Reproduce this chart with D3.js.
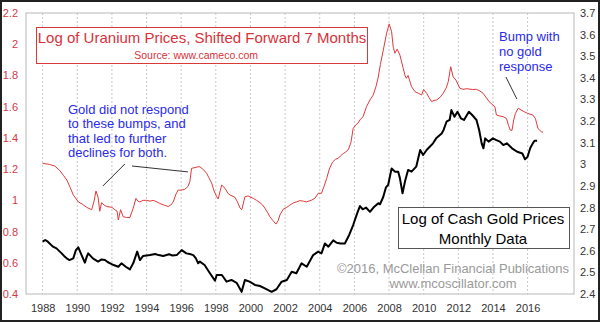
<!DOCTYPE html>
<html>
<head>
<meta charset="utf-8">
<script src="https://cdn.jsdelivr.net/npm/d3@7"></script>
<style>
  body { margin: 0; background: #fff; }
  svg { display: block; font-family: "Liberation Sans", Arial, sans-serif; }
  .grid line { stroke: #c8c8c8; stroke-dasharray: 2,2; }
</style>
</head>
<body>
<div id="chart"></div>
<script>
// uranium (log, shifted forward 7 months) -- left axis
const uraniumYears = [1988.0,1988.4,1988.7,1989.0,1989.2,1989.4,1989.6,1989.77,1990.06,1990.3,1990.54,1990.83,1990.96,1991.08,1991.2,1991.3,1991.4,1991.55,1991.7,1992.0,1992.17,1992.3,1992.37,1992.5,1992.65,1992.85,1993.04,1993.23,1993.39,1993.5,1993.62,1993.8,1994.0,1994.2,1994.38,1994.6,1994.77,1995.0,1995.25,1995.4,1995.54,1995.7,1995.83,1996.0,1996.2,1996.4,1996.5,1996.6,1996.8,1996.98,1997.08,1997.3,1997.47,1997.6,1997.76,1997.9,1998.05,1998.14,1998.25,1998.34,1998.53,1998.7,1998.82,1999.1,1999.25,1999.4,1999.5,1999.68,1999.87,2000.16,2000.35,2000.55,2000.7,2000.83,2001.0,2001.12,2001.3,2001.47,2001.6,2001.7,2001.89,2002.1,2002.28,2002.5,2002.66,2002.85,2003.05,2003.24,2003.5,2003.72,2003.91,2004.1,2004.25,2004.4,2004.55,2004.74,2004.9,2005.07,2005.2,2005.36,2005.5,2005.65,2005.8,2005.93,2006.1,2006.2,2006.32,2006.5,2006.7,2006.9,2007.09,2007.25,2007.38,2007.5,2007.67,2007.86,2008.01,2008.15,2008.24,2008.34,2008.47,2008.63,2008.82,2008.92,2009.0,2009.1,2009.3,2009.5,2009.69,2009.88,2010.0,2010.17,2010.3,2010.46,2010.6,2010.75,2010.95,2011.13,2011.3,2011.42,2011.56,2011.7,2011.86,2012.09,2012.28,2012.5,2012.8,2013.05,2013.25,2013.43,2013.6,2013.78,2014.0,2014.11,2014.2,2014.4,2014.59,2014.78,2014.9,2015.0,2015.1,2015.2,2015.3,2015.46,2015.62,2015.8,2016.0,2016.3,2016.45,2016.6,2016.79,2016.9];
const uraniumLog = [1.237,1.23,1.22,1.19,1.16,1.13,1.08,1.034,0.99,0.975,0.955,0.94,0.99,1.06,1.02,0.93,0.985,0.97,0.96,0.955,0.94,0.93,0.874,0.94,0.895,0.89,0.89,0.95,1.013,0.995,0.99,1.0,1.0,0.995,1.0,0.99,0.98,0.97,0.96,0.97,0.99,1.04,1.066,1.065,1.07,1.09,1.12,1.205,1.21,1.215,1.215,1.195,1.173,1.145,1.11,1.06,1.023,1.009,1.06,1.098,1.077,1.045,1.034,1.02,0.99,0.95,0.94,1.023,1.028,1.013,1.0,0.985,0.97,0.95,0.92,0.895,0.87,0.848,0.87,0.906,0.943,0.955,0.97,0.985,0.99,0.998,0.995,0.99,1.0,1.013,1.045,1.045,1.09,1.14,1.2,1.245,1.262,1.27,1.285,1.30,1.31,1.325,1.37,1.461,1.485,1.493,1.515,1.536,1.60,1.643,1.675,1.73,1.79,1.87,1.963,2.07,2.13,2.08,1.984,1.942,1.968,1.93,1.846,1.80,1.782,1.80,1.728,1.696,1.686,1.675,1.71,1.686,1.66,1.632,1.64,1.643,1.66,1.686,1.72,1.76,1.856,1.792,1.771,1.718,1.711,1.715,1.71,1.711,1.70,1.686,1.66,1.632,1.61,1.60,1.547,1.54,1.536,1.525,1.48,1.45,1.448,1.515,1.557,1.59,1.579,1.568,1.557,1.547,1.525,1.46,1.44,1.436];

// cash gold (log) -- right axis
const goldYears = [1988.0,1988.15,1988.3,1988.45,1988.6,1988.8,1989.1,1989.25,1989.39,1989.55,1989.77,1989.92,1990.06,1990.25,1990.44,1990.55,1990.63,1990.9,1991.2,1991.4,1991.6,1991.75,1991.9,1992.1,1992.37,1992.55,1992.8,1993.04,1993.23,1993.46,1993.62,1993.8,1994.0,1994.2,1994.5,1994.7,1994.96,1995.3,1995.5,1995.74,1996.03,1996.3,1996.5,1996.7,1996.85,1996.98,1997.08,1997.35,1997.66,1997.95,1998.05,1998.35,1998.62,1998.9,1999.2,1999.49,1999.68,1999.95,2000.26,2000.55,2000.83,2001.22,2001.5,2001.8,2002.1,2002.38,2002.65,2002.95,2003.25,2003.62,2003.91,2004.1,2004.3,2004.5,2004.78,2004.98,2005.2,2005.45,2005.7,2005.93,2006.16,2006.32,2006.48,2006.67,2006.9,2007.1,2007.38,2007.48,2007.67,2007.82,2007.95,2008.15,2008.34,2008.53,2008.63,2008.78,2008.92,2009.1,2009.3,2009.57,2009.8,2009.97,2010.17,2010.35,2010.54,2010.72,2011.04,2011.15,2011.32,2011.5,2011.6,2011.78,2011.95,2012.15,2012.33,2012.61,2012.8,2013.05,2013.2,2013.35,2013.45,2013.55,2013.75,2014.0,2014.2,2014.4,2014.6,2014.8,2015.1,2015.4,2015.7,2015.85,2016.0,2016.15,2016.3,2016.4,2016.55];
const goldLog = [2.642,2.65,2.642,2.63,2.619,2.611,2.588,2.575,2.565,2.557,2.565,2.603,2.616,2.58,2.545,2.573,2.588,2.565,2.55,2.56,2.557,2.548,2.542,2.534,2.526,2.542,2.526,2.514,2.542,2.596,2.557,2.576,2.578,2.58,2.585,2.58,2.576,2.584,2.578,2.58,2.603,2.588,2.585,2.58,2.565,2.542,2.55,2.534,2.496,2.462,2.488,2.488,2.457,2.465,2.452,2.41,2.465,2.457,2.442,2.437,2.426,2.41,2.422,2.457,2.465,2.503,2.496,2.542,2.526,2.58,2.596,2.588,2.634,2.619,2.648,2.637,2.634,2.634,2.673,2.719,2.773,2.807,2.792,2.80,2.78,2.80,2.82,2.815,2.85,2.893,2.904,2.981,2.966,2.966,2.935,2.866,2.92,2.974,2.966,2.989,3.066,3.043,3.066,3.081,3.097,3.12,3.143,3.159,3.197,3.205,3.251,3.22,3.243,3.213,3.205,3.243,3.228,3.205,3.16,3.097,3.074,3.12,3.105,3.12,3.112,3.105,3.089,3.097,3.074,3.058,3.05,3.023,3.035,3.074,3.097,3.109,3.109];

const yearTicks = d3.range(1988, 2017, 2);
const leftTicks = [0.4, 0.6, 0.8, 1.0, 1.2, 1.4, 1.6, 1.8, 2.0, 2.2];
const rightTicks = [2.4, 2.5, 2.6, 2.7, 2.8, 2.9, 3.0, 3.1, 3.2, 3.3, 3.4, 3.5, 3.6, 3.7];

const W = 600, H = 322;
const plotL = 26, plotR = 574, plotT = 13, plotB = 294;

const svg = d3.select("#chart").append("svg").attr("width", W).attr("height", H);

svg.append("rect").attr("x", 1).attr("y", 1).attr("width", W - 2).attr("height", H - 2)
  .attr("fill", "#fff").attr("stroke", "#222").attr("stroke-width", 2);

const x = d3.scaleLinear().domain([1987.04, 2018.68]).range([plotL, plotR]);
const yL = d3.scaleLinear().domain([0.4, 2.2]).range([plotB, plotT]);
const yR = d3.scaleLinear().domain([2.4, 3.7]).range([plotB, plotT]);

// vertical dashed grid
svg.append("g").attr("class", "grid")
  .selectAll("line").data(yearTicks).enter().append("line")
  .attr("x1", d => x(d)).attr("x2", d => x(d))
  .attr("y1", plotT).attr("y2", plotB);

// plot frame
svg.append("rect").attr("x", plotL).attr("y", plotT)
  .attr("width", plotR - plotL).attr("height", plotB - plotT)
  .attr("fill", "none").attr("stroke", "#b8b8b8");

// axes
const fmt = d3.format("~g");
const gL = svg.append("g").attr("transform", `translate(${plotL},0)`)
  .call(d3.axisLeft(yL).tickValues(leftTicks).tickFormat(fmt).tickSize(0).tickPadding(8));
gL.select(".domain").remove();
gL.selectAll("text").attr("fill", "#d2394a").style("font-size", "11px")
  .style("font-family", "Liberation Sans, Arial, sans-serif");

const gR = svg.append("g").attr("transform", `translate(${plotR},0)`)
  .call(d3.axisRight(yR).tickValues(rightTicks).tickFormat(fmt).tickSize(0).tickPadding(6));
gR.select(".domain").remove();
gR.selectAll("text").attr("fill", "#333").style("font-size", "11px")
  .style("font-family", "Liberation Sans, Arial, sans-serif");

const gX = svg.append("g").attr("transform", `translate(0,${plotB})`)
  .call(d3.axisBottom(x).tickValues(yearTicks).tickFormat(d3.format("d")).tickSize(0).tickPadding(10));
gX.select(".domain").remove();
gX.selectAll("text").attr("fill", "#333").style("font-size", "11px")
  .style("font-family", "Liberation Sans, Arial, sans-serif");

// lines
svg.append("clipPath").attr("id", "clip").append("rect")
  .attr("x", plotL).attr("y", plotT).attr("width", plotR - plotL).attr("height", plotB - plotT);

const uranium = uraniumYears.map((t, i) => ({ t, v: uraniumLog[i] }));
const gold = goldYears.map((t, i) => ({ t, v: goldLog[i] }));

svg.append("path").datum(uranium)
  .attr("clip-path", "url(#clip)")
  .attr("fill", "none").attr("stroke", "#e03a3a").attr("stroke-width", 1)
  .attr("d", d3.line().x(d => x(d.t)).y(d => yL(d.v)));

svg.append("path").datum(gold)
  .attr("clip-path", "url(#clip)")
  .attr("fill", "none").attr("stroke", "#000").attr("stroke-width", 2)
  .attr("stroke-linejoin", "round")
  .attr("d", d3.line().x(d => x(d.t)).y(d => yR(d.v)));

// title box
svg.append("rect").attr("x", 36.5).attr("y", 27.5).attr("width", 331).attr("height", 36)
  .attr("fill", "#fff").attr("stroke", "#d83a3a");
svg.append("text").attr("x", 202).attr("y", 43).attr("text-anchor", "middle")
  .attr("fill", "#d8323a").style("font-size", "15px")
  .text("Log of Uranium Prices, Shifted Forward 7 Months");
svg.append("text").attr("x", 258).attr("y", 58.5).attr("text-anchor", "end")
  .attr("fill", "#d8323a").style("font-size", "10.5px")
  .text("Source: www.cameco.com");

// annotations
const note1 = ["Gold did not respond", "to these bumps, and", "that led to further", "declines for both."];
svg.append("g").selectAll("text").data(note1).enter().append("text")
  .attr("x", 68).attr("y", (d, i) => 114 + i * 14.3)
  .attr("fill", "#2a2af0").style("font-size", "13px").text(d => d);

const note2 = ["Bump with", "no gold", "response"];
svg.append("g").selectAll("text").data(note2).enter().append("text")
  .attr("x", 499).attr("y", (d, i) => 40.5 + i * 15.2)
  .attr("fill", "#2a2af0").style("font-size", "13px").text(d => d);

const pointers = [
  [[1992.75, 1.233], [1991.48, 1.092]],
  [[1993.16, 1.22], [1996.39, 1.182]],
  [[2014.75, 1.79], [2015.38, 1.649]]
];
svg.append("g").selectAll("line").data(pointers).enter().append("line")
  .attr("x1", d => x(d[0][0])).attr("y1", d => yL(d[0][1]))
  .attr("x2", d => x(d[1][0])).attr("y2", d => yL(d[1][1]))
  .attr("stroke", "#333").attr("stroke-width", 1);

// gold legend box
svg.append("rect").attr("x", 398.5).attr("y", 207.5).attr("width", 171).attr("height", 41)
  .attr("fill", "#fff").attr("stroke", "#555");
svg.append("text").attr("x", 483).attr("y", 224).attr("text-anchor", "middle")
  .attr("fill", "#000").style("font-size", "15px").text("Log of Cash Gold Prices");
svg.append("text").attr("x", 483).attr("y", 243.5).attr("text-anchor", "middle")
  .attr("fill", "#000").style("font-size", "15px").text("Monthly Data");

// copyright
svg.append("text").attr("x", 453).attr("y", 272.5).attr("text-anchor", "middle")
  .attr("fill", "#9a9a9a").style("font-size", "13px").text("©2016, McClellan Financial Publications");
svg.append("text").attr("x", 453).attr("y", 287.5).attr("text-anchor", "middle")
  .attr("fill", "#9a9a9a").style("font-size", "13px").text("www.mcoscillator.com");
</script>
</body>
</html>
